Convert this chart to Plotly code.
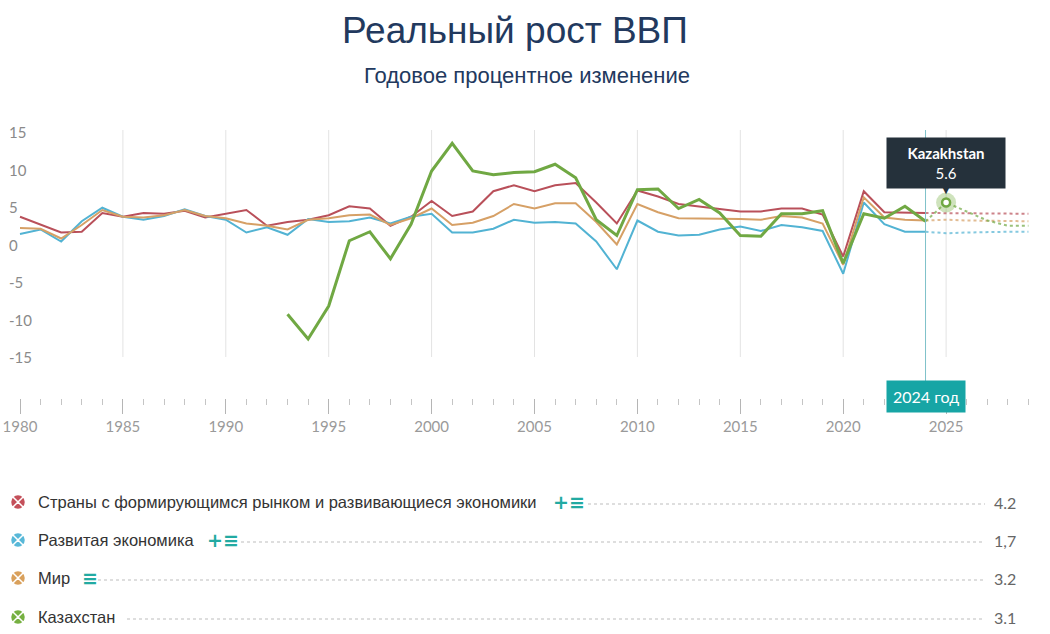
import plotly.graph_objects as go

# ---- data ----
years = list(range(1980, 2030))

emde = [3.7, 2.6, 1.6, 1.7, 4.2, 3.7, 4.2, 4.1, 4.5, 3.6,
        4.1, 4.6, 2.5, 3.0, 3.3, 3.9, 5.1, 4.8, 2.5, 3.7,
        5.8, 3.8, 4.4, 7.1, 7.9, 7.1, 7.9, 8.2, 5.6, 2.8,
        7.2, 6.4, 5.4, 5.1, 4.7, 4.4, 4.4, 4.8, 4.8, 4.0,
        -1.6, 7.1, 4.3, 4.3, 4.2, 4.2, 4.2, 4.2, 4.1, 4.1]
advanced = [1.4, 2.0, 0.4, 3.1, 4.9, 3.7, 3.3, 3.8, 4.7, 3.8,
            3.3, 1.6, 2.3, 1.3, 3.4, 3.0, 3.1, 3.6, 2.8, 3.7,
            4.1, 1.6, 1.6, 2.1, 3.3, 2.9, 3.0, 2.8, 0.4, -3.3,
            3.2, 1.7, 1.2, 1.3, 2.0, 2.4, 1.8, 2.6, 2.3, 1.8,
            -3.9, 5.6, 2.7, 1.7, 1.7, 1.5, 1.6, 1.7, 1.7, 1.7]
world = [2.2, 2.1, 0.8, 2.6, 4.6, 3.7, 3.6, 3.9, 4.6, 3.8,
         3.5, 2.8, 2.5, 2.0, 3.3, 3.5, 3.9, 4.0, 2.6, 3.5,
         4.8, 2.6, 2.9, 3.8, 5.4, 4.8, 5.5, 5.5, 3.0, 0.0,
         5.4, 4.3, 3.5, 3.5, 3.5, 3.4, 3.3, 3.8, 3.6, 2.8,
         -2.7, 6.3, 3.6, 3.3, 3.2, 3.3, 3.2, 3.2, 3.1, 3.1]
kaz = [None] * 13 + [-9.3, -12.6, -8.2, 0.5, 1.7, -1.9, 2.7,
                     9.8, 13.5, 9.8, 9.3, 9.6, 9.7, 10.7, 8.9, 3.3, 1.2,
                     7.3, 7.4, 4.8, 6.0, 4.2, 1.2, 1.1, 4.1, 4.1, 4.5,
                     -2.5, 4.1, 3.5, 5.1, 3.1, 5.6, 4.4, 3.2, 2.5, 2.5]

names = ["Страны с формирующимся рынком и развивающиеся экономики",
         "Развитая экономика", "Мир", "Казахстан"]
legend_values = ["4.2", "1,7", "3.2", "3.1"]
legend_icons = ["+\u2261", "+\u2261", "\u2261", ""]
colors = ["#b9505a", "#52b3d3", "#d6a066", "#70a843"]
icon_colors = ["#c4505a", "#58b8d8", "#d9a05b", "#76b041"]
widths = [2, 2, 2, 3]
series = [emde, advanced, world, kaz]

y_ticks = [15, 10, 5, 0, -5, -10, -15]
current_year = 2024
hover_year = 2025
grid_years = list(range(1985, 2030, 5))

# ---- geometry (screen pixels; body margin removed in the page) ----
OFF = 0
W, H = 1050 - OFF, 634 - OFF
ML, MR, MT, MB = 0, 10, 130, 10
PW, PH = W - ML - MR, H - MT - MB
PXYEAR = 20.58


def py(sy):
    return (H - MB - (sy - OFF)) / PH


def px(sx):
    return (sx - OFF - ML) / PW


cut = years.index(current_year)
hv = years.index(hover_year)

fig = go.Figure()

for s, c, w, n in zip(series, colors, widths, names):
    fig.add_trace(go.Scatter(x=years[:cut + 1], y=s[:cut + 1], mode="lines",
                             line=dict(color=c, width=w), name=n,
                             hoverinfo="skip", connectgaps=False))
    fig.add_trace(go.Scatter(x=years[cut:], y=s[cut:], mode="lines",
                             line=dict(color=c, width=2, dash="dot"),
                             opacity=0.7, hoverinfo="skip"))

# hover marker on Kazakhstan
fig.add_trace(go.Scatter(x=[years[hv]], y=[kaz[hv]], mode="markers",
                         marker=dict(size=20, color="rgba(118,176,65,0.35)"),
                         hoverinfo="skip"))
fig.add_trace(go.Scatter(x=[years[hv]], y=[kaz[hv]], mode="markers",
                         marker=dict(size=8, color="white",
                                     line=dict(color=colors[3], width=2.5)),
                         hoverinfo="skip"))

# legend block markers drawn on pixel-like helper axes
rows_y = [502, 540, 578, 617]
fig.add_trace(go.Scatter(x=[18] * 4, y=rows_y, mode="markers", xaxis="x2", yaxis="y2",
                         marker=dict(symbol="circle-x", size=15, color=icon_colors,
                                     line=dict(color="white", width=1.5)),
                         hoverinfo="skip"))

shapes = []
for g in grid_years:
    shapes.append(dict(type="line", xref="x", yref="y domain", x0=g, x1=g, y0=0, y1=1,
                       line=dict(color="#e3e3e3", width=1), layer="below"))
# current-year line
shapes.append(dict(type="line", xref="x", yref="paper", x0=current_year, x1=current_year,
                   y0=py(384), y1=1, line=dict(color="#7fc2ca", width=1)))

annotations = []
# title / subtitle
annotations.append(dict(text="Реальный рост ВВП", xref="paper", yref="paper",
                        x=px(515), y=py(30), showarrow=False, yanchor="middle",
                        font=dict(family="Liberation Sans, Arial", size=37, color="#22395e")))
annotations.append(dict(text="Годовое процентное изменение", xref="paper", yref="paper",
                        x=px(527), y=py(76), showarrow=False, yanchor="middle",
                        font=dict(family="Liberation Sans, Arial", size=22, color="#22395e")))
# y tick labels, left aligned at the page edge
for v in y_ticks:
    annotations.append(dict(text=str(v), xref="paper", yref="y", x=px(7), y=v,
                            xanchor="left", yanchor="middle", showarrow=False,
                            font=dict(family="Lato", size=15, color="#8a8a8a")))
# current year label
annotations.append(dict(text=f"{current_year} год", xref="x", yref="paper",
                        x=current_year, y=py(396), showarrow=False, yanchor="middle",
                        bgcolor="#17a5a5", borderpad=6,
                        font=dict(family="Lato", size=16, color="white")))
# tooltip
annotations.append(dict(text=f"<b>Kazakhstan</b><br>{kaz[hv]}", xref="x", yref="y",
                        x=years[hv], y=kaz[hv], yshift=40, showarrow=False, yanchor="middle",
                        bgcolor="#25313b", borderpad=6, width=106,
                        font=dict(family="Lato", size=15, color="white")))
annotations.append(dict(text="\u25bc", xref="x", yref="y", x=years[hv], y=kaz[hv],
                        yshift=13, showarrow=False, yanchor="middle",
                        font=dict(size=12, color="#25313b")))

# legend rows
icon_x = [551, 205, 80, None]
leader_start = [588, 241, 98, 127]
for i in range(4):
    annotations.append(dict(text=names[i], xref="x2", yref="y2", x=36, y=rows_y[i],
                            xanchor="left", yanchor="middle", showarrow=False,
                            font=dict(family="Liberation Sans, Arial", size=16.5, color="#333333")))
    if legend_icons[i]:
        annotations.append(dict(text="<b>" + legend_icons[i] + "</b>", xref="x2", yref="y2",
                                x=icon_x[i], y=rows_y[i], xanchor="left", yanchor="middle",
                                showarrow=False,
                                font=dict(family="DejaVu Sans", size=19, color="#22aaa2")))
    annotations.append(dict(text=legend_values[i], xref="x2", yref="y2", x=1018, y=rows_y[i],
                            xanchor="right", yanchor="middle", showarrow=False,
                            font=dict(family="Lato", size=16, color="#666666")))
    shapes.append(dict(type="line", xref="x2", yref="y2", x0=leader_start[i], x1=985,
                       y0=rows_y[i] + 2, y1=rows_y[i] + 2,
                       line=dict(color="#bdbdbd", width=1, dash="dot")))

x_left = 1980 - (20 - OFF - ML) / PXYEAR
x_right = x_left + PW / PXYEAR

fig.update_layout(
    width=W, height=H,
    margin=dict(l=ML, r=MR, t=MT, b=MB, autoexpand=False),
    paper_bgcolor="white", plot_bgcolor="white",
    showlegend=False,
    font=dict(family="Lato", color="#888888"),
    xaxis=dict(range=[x_left, x_right], anchor="free", position=py(398),
               tick0=1980, dtick=5, ticks="outside", ticklen=15, tickcolor="#b5b5b5",
               ticklabeloverflow="allow", automargin=False,
               showgrid=False, zeroline=False, showline=False,
               tickfont=dict(family="Lato", size=15, color="#9a9a9a"),
               minor=dict(dtick=1, tick0=1980, ticks="outside", ticklen=6,
                          tickcolor="#c5c5c5", showgrid=False)),
    yaxis=dict(range=[-15, 15 + 2 / 7.5], domain=[py(357), 1], automargin=False,
               showticklabels=False, showgrid=False, zeroline=False,
               showline=False, ticks=""),
    xaxis2=dict(domain=[0, 1], range=[OFF + ML, OFF + ML + PW], visible=False, anchor="y2"),
    yaxis2=dict(domain=[0, py(476)], range=[H - MB + OFF, 476], visible=False, anchor="x2"),
    shapes=shapes,
    annotations=annotations,
)

fig.write_html("out.html", config={"displayModeBar": False},
               post_script="document.body.style.margin='0';")
